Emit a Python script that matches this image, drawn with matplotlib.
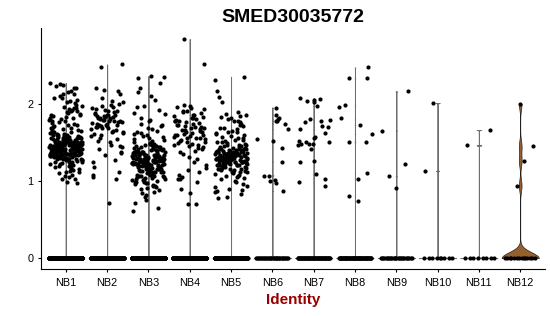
import matplotlib.pyplot as plt
import numpy as np

plt.rcParams["font.family"] = ["Liberation Sans", "DejaVu Sans"]

# -------------------------
# Data
# -------------------------

groups = ["NB1", "NB2", "NB3", "NB4", "NB5", "NB6",
          "NB7", "NB8", "NB9", "NB10", "NB11", "NB12"]

# cells with zero expression in each cluster
zero_counts = [950, 1150, 1000, 850, 900, 35, 55, 60, 28, 9, 8, 14]

nb1_expr = [
    1.42, 1.87, 1.35, 1.51, 2.21, 1.28, 1.46, 1.63, 1.39, 1.12,
    1.55, 1.33, 1.94, 1.44, 1.48, 1.19, 1.37, 2.05, 1.52, 1.41,
    1.31, 1.76, 1.45, 1.58, 1.24, 1.38, 1.49, 2.27, 1.34, 1.61,
    1.43, 1.06, 1.54, 1.82, 1.36, 1.47, 1.29, 1.40, 1.99, 1.53,
    1.32, 1.68, 1.44, 1.15, 1.50, 1.38, 2.12, 1.46, 1.27, 1.57,
    1.41, 1.90, 1.35, 1.62, 1.48, 1.22, 1.39, 1.72, 1.45, 1.03,
    1.52, 1.33, 2.17, 1.43, 1.56, 1.30, 1.84, 1.47, 1.37, 1.65,
    1.25, 1.42, 1.51, 1.96, 1.36, 1.49, 1.10, 1.44, 1.59, 2.08,
    1.34, 1.40, 1.79, 1.53, 1.28, 1.46, 1.38, 1.66, 1.20, 1.43,
    1.55, 1.88, 1.32, 1.48, 2.24, 1.41, 1.17, 1.60, 1.37, 1.50,
    1.45, 1.74, 1.31, 1.42, 1.93, 1.54, 1.26, 1.39, 1.63, 1.08,
    1.47, 1.35, 2.02, 1.52, 1.44, 1.23, 1.81, 1.40, 1.57, 1.33,
    1.49, 1.70, 1.14, 1.43, 1.36, 2.15, 1.46, 1.29, 1.58, 1.85,
    1.38, 1.51, 1.41, 0.98, 1.64, 1.34, 1.45, 1.97, 1.21, 1.48,
    1.55, 1.30, 1.77, 1.42, 2.10, 1.37, 1.53, 1.18, 1.44, 1.67,
    1.32, 1.91, 1.47, 1.39, 1.27, 1.60, 2.20, 1.43, 1.50, 1.05,
    1.35, 1.73, 1.46, 1.56, 1.24, 1.40, 1.86, 1.52, 1.31, 2.01,
    1.44, 1.62, 1.13, 1.38, 1.49, 1.78, 1.36, 1.45, 2.26, 1.28,
    1.54, 1.41, 1.95, 1.33, 1.69, 1.16, 1.48, 1.42, 1.83, 1.37,
    1.51, 2.07, 1.25, 1.46, 1.59, 0.97, 1.39, 1.75, 1.43, 1.30,
    1.57, 1.89, 1.34, 1.47, 2.13, 1.22, 1.52, 1.40, 1.66, 1.11,
    1.45, 1.36, 1.80, 1.50, 1.29, 2.23, 1.43, 1.61, 1.38, 1.92,
    1.19, 1.48, 1.35, 1.71, 1.53, 1.02, 1.44, 2.04, 1.32, 1.58,
    1.41, 1.37, 1.46, 1.33, 1.50, 1.28, 1.43, 1.39, 1.55, 1.35,
    1.47, 1.31, 1.42, 1.52, 1.36, 1.45, 1.40, 1.27, 1.49, 1.44,
]

nb2_expr = [
    2.48, 2.51, 1.78, 1.84, 1.72, 2.18, 1.95, 1.63, 1.81, 1.45,
    1.74, 1.88, 1.27, 1.69, 2.02, 1.80, 1.52, 1.76, 1.92, 1.05,
    1.83, 1.71, 1.38, 1.86, 2.21, 1.66, 1.79, 1.58, 1.99, 1.73,
    1.12, 1.85, 1.61, 1.77, 2.07, 1.44, 1.82, 1.70, 1.90, 1.33,
    1.75, 1.96, 1.56, 2.13, 1.68, 1.87, 1.02, 1.79, 1.64, 1.47,
    1.81, 2.00, 1.73, 1.24, 1.89, 1.60, 1.76, 0.72, 1.93, 1.54,
    1.84, 1.67, 2.04, 1.41, 1.78, 1.71, 1.18, 1.86, 1.97, 1.62,
    1.50, 1.74, 2.16, 1.83, 1.08, 1.65, 1.80, 1.36, 1.91, 1.70,
]

nb3_expr = [
    1.25, 1.31, 1.08, 1.42, 1.19, 0.97, 1.36, 1.27, 1.62, 1.14,
    1.22, 1.03, 1.45, 1.29, 2.35, 1.17, 1.33, 0.88, 1.24, 1.51,
    1.11, 1.38, 1.26, 1.79, 1.05, 1.20, 1.47, 1.32, 0.93, 1.28,
    1.15, 1.69, 1.23, 1.40, 1.01, 1.34, 2.10, 1.18, 1.27, 0.82,
    1.30, 1.12, 1.44, 1.21, 1.56, 0.99, 1.35, 1.25, 1.87, 1.09,
    1.19, 1.41, 1.29, 0.72, 1.24, 1.37, 1.06, 1.48, 2.34, 1.16,
    1.32, 1.22, 0.95, 1.74, 1.28, 1.13, 1.39, 1.26, 1.02, 1.53,
    1.20, 1.33, 1.92, 1.10, 1.43, 0.86, 1.25, 1.30, 1.15, 1.64,
    1.36, 1.04, 1.23, 1.46, 2.21, 1.18, 1.31, 0.98, 1.27, 1.58,
    1.11, 1.40, 1.21, 0.65, 1.34, 1.24, 1.07, 1.82, 1.29, 1.17,
    1.45, 1.00, 1.35, 1.22, 1.67, 1.14, 1.28, 0.91, 1.38, 2.05,
    1.19, 1.26, 1.49, 1.08, 1.32, 0.79, 1.23, 1.42, 1.13, 1.71,
    1.30, 0.96, 1.25, 1.37, 1.05, 2.36, 1.20, 1.44, 1.16, 1.54,
    1.33, 0.89, 1.27, 1.10, 1.96, 1.39, 1.21, 1.02, 1.47, 1.28,
    1.15, 1.60, 1.34, 0.94, 1.24, 1.41, 1.09, 2.15, 1.31, 1.18,
    0.61, 1.26, 1.36, 1.12, 1.77, 1.22, 1.45, 0.99, 1.29, 1.52,
    1.06, 1.32, 1.19, 1.88, 1.25, 0.84, 1.40, 1.14, 1.30, 1.65,
    1.23, 1.01, 1.43, 1.27, 2.27, 1.17, 1.35, 0.92, 1.21, 1.57,
    1.11, 1.38, 1.26, 0.75, 1.33, 1.48, 1.07, 1.72, 1.20, 1.29,
    1.16, 1.97, 1.37, 1.04, 1.24, 1.44, 0.97, 1.61, 1.31, 1.13,
]

nb4_expr = [
    2.84, 2.52, 1.62, 1.78, 1.55, 1.91, 1.47, 1.70, 1.05, 1.83,
    1.58, 1.96, 1.43, 1.66, 1.21, 1.74, 1.52, 1.88, 0.70, 1.60,
    1.80, 1.35, 1.68, 1.94, 1.49, 1.12, 1.76, 1.57, 1.85, 0.89,
    1.63, 1.45, 1.72, 1.28, 1.99, 1.54, 1.81, 1.02, 1.67, 1.50,
    1.77, 1.39, 1.90, 1.59, 0.84, 1.73, 1.46, 1.64, 1.17, 1.86,
    1.53, 1.70, 1.31, 1.79, 0.70, 1.61, 1.93, 1.48, 1.08, 1.75,
    1.56, 1.84, 1.24, 1.66, 1.42, 1.97, 1.60, 0.98, 1.71, 1.51,
    1.82, 1.37, 1.65, 1.14, 1.78, 1.55, 1.89, 1.44, 1.69, 1.03,
]

nb5_expr = [
    1.30, 1.24, 1.38, 1.15, 1.45, 1.27, 1.62, 1.33, 1.19, 2.35,
    1.29, 1.41, 1.08, 1.35, 1.22, 1.78, 1.31, 0.88, 1.26, 1.50,
    1.36, 1.18, 1.43, 1.28, 1.69, 1.12, 1.32, 2.31, 1.25, 1.39,
    0.96, 1.34, 1.21, 1.56, 1.29, 1.47, 1.14, 1.83, 1.31, 1.23,
    1.37, 1.05, 1.27, 1.42, 1.65, 1.20, 1.33, 0.79, 1.30, 1.53,
    1.17, 1.40, 1.26, 2.16, 1.35, 1.22, 1.48, 1.10, 1.32, 1.74,
    1.28, 0.92, 1.38, 1.24, 1.59, 1.31, 1.16, 1.44, 1.87, 1.29,
    1.34, 1.02, 1.25, 1.40, 1.21, 1.63, 1.36, 1.13, 1.30, 2.09,
    1.27, 1.46, 0.85, 1.33, 1.19, 1.71, 1.28, 1.37, 1.07, 1.52,
    1.23, 1.32, 1.42, 1.15, 1.80, 1.29, 0.98, 1.35, 1.26, 1.58,
    1.31, 1.20, 1.49, 1.11, 1.34, 2.02, 1.24, 1.39, 0.87, 1.67,
    1.30, 1.18, 1.43, 1.27, 1.76, 1.36, 1.09, 1.33, 1.22, 1.55,
    1.28, 0.78, 1.41, 1.25, 1.85, 1.32, 1.14, 1.38, 1.29, 1.61,
    1.21, 1.45, 1.04, 1.35, 1.27, 1.72, 1.31, 0.94, 1.24, 1.51,
    1.37, 1.16, 1.30, 1.89, 1.26, 1.42, 1.12, 1.34, 0.83, 1.64,
    1.28, 1.40, 1.19, 1.33, 1.81, 1.23, 1.47, 1.06, 1.36, 1.30,
    1.57, 1.25, 0.90, 1.39, 1.20, 1.68, 1.32, 1.11, 1.44, 1.84,
    1.27, 1.35, 1.00, 1.29, 1.53, 1.22, 1.38, 1.77, 1.31, 1.17,
]

# sparse clusters: expression values and their horizontal jitter
nb6_expr = [1.54, 1.95, 1.86, 1.80, 1.81, 1.77, 1.78, 1.74, 1.67,
            1.52, 1.43, 1.25, 1.07, 1.07, 1.00, 1.01, 0.97, 0.87]
nb6_jit = [-0.38, 0.08, 0.09, 0.14, 0.17, 0.10, 0.12, 0.30, 0.39,
           0.02, 0.24, 0.24, -0.21, -0.08, -0.05, 0.06, 0.10, 0.27]

nb7_expr = [1.52, 2.07, 2.03, 2.05, 2.02, 1.97, 2.06, 1.80, 1.76, 1.67,
            1.77, 1.79, 1.71, 1.70, 1.62, 1.56, 1.57, 1.46, 1.48, 1.50,
            1.48, 1.48, 1.41, 1.50, 1.25, 1.26, 0.98, 1.09, 1.02, 0.94]
nb7_jit = [-0.36, -0.32, -0.17, 0.00, 0.01, 0.09, 0.15, -0.09, -0.21, -0.32,
           0.17, 0.39, 0.19, 0.35, 0.27, 0.00, 0.03, -0.37, -0.31, -0.19,
           -0.12, -0.02, -0.06, 0.37, -0.32, 0.02, -0.36, 0.06, 0.28, 0.28]

nb8_expr = [2.33, 2.47, 2.33, 1.96, 1.98, 1.81, 1.72,
            1.50, 1.51, 1.61, 1.02, 1.10, 0.81, 0.74]
nb8_jit = [-0.15, 0.31, 0.30, -0.38, -0.25, -0.35, 0.12,
           -0.15, 0.27, 0.41, 0.07, 0.28, -0.15, 0.08]

nb9_expr = [1.65, 1.06, 0.91, 1.22, 2.16]
nb9_jit = [-0.35, -0.18, 0.00, 0.21, 0.28]

nb10_expr = [2.01, 1.13]
nb10_jit = [-0.12, -0.31]

nb11_expr = [1.46, 1.66]
nb11_jit = [-0.30, 0.28]

nb12_expr = [2.00, 0.94, 1.26, 1.45]
nb12_jit = [0.00, -0.07, 0.10, 0.32]

expr_by_group = [nb1_expr, nb2_expr, nb3_expr, nb4_expr, nb5_expr, nb6_expr,
                 nb7_expr, nb8_expr, nb9_expr, nb10_expr, nb11_expr, nb12_expr]
jit_by_group = [None, None, None, None, None, nb6_jit,
                nb7_jit, nb8_jit, nb9_jit, nb10_jit, nb11_jit, nb12_jit]

nb12_fill = "#96602C"


def spread(n, start=1):
    # evenly scattered offsets in [-0.4, 0.4] (golden-ratio sequence)
    k = np.arange(start, start + n)
    return ((k * 0.6180339887) % 1.0 - 0.5) * 0.8


# -------------------------
# Plot
# -------------------------

fig = plt.figure(figsize=(5.5, 3.16), dpi=100)
ax = fig.add_axes([41 / 550, 47 / 316, 504 / 550, 241 / 316])

for i, name in enumerate(groups):
    pos = i + 1
    expr = np.asarray(expr_by_group[i], dtype=float)
    zeros = np.zeros(zero_counts[i])
    values = np.concatenate([zeros, expr])

    # violin: the zero spike dominates, so most clusters collapse to a line
    last = name == "NB12"
    parts = ax.violinplot(
        values,
        positions=[pos],
        widths=0.9,
        showextrema=False,
        bw_method=0.12 if last else 0.003,
        points=400,
    )
    body = parts["bodies"][0]
    body.set_facecolor(nb12_fill if last else "#8c8c8c")
    body.set_edgecolor("#222222" if last else "#6e6e6e")
    body.set_linewidth(0.5 if last else 0.7)
    body.set_alpha(1)

    # jittered cells
    if jit_by_group[i] is None:
        x_expr = spread(len(expr), start=7)
    else:
        x_expr = np.asarray(jit_by_group[i])
    ax.scatter(pos + spread(len(zeros)), zeros, s=9, c="black",
               linewidths=0, zorder=3)
    ax.scatter(pos + x_expr, expr, s=9, c="black",
               linewidths=0, zorder=3)

ax.set_xlim(0.4, len(groups) + 0.6)
ax.set_ylim(-0.142, 2.982)
ax.set_xticks(range(1, len(groups) + 1))
ax.set_xticklabels(groups)
ax.set_yticks([0, 1, 2])

for side in ["top", "right"]:
    ax.spines[side].set_visible(False)
for side in ["left", "bottom"]:
    ax.spines[side].set_linewidth(0.8)

ax.tick_params(axis="both", length=2.2, width=0.8, labelsize=7.8,
               colors="black", pad=3.2)
ax.tick_params(axis="x", pad=4.2)

ax.set_title("SMED30035772", fontsize=14, fontweight="bold", pad=4.5)
ax.set_xlabel("Identity", fontsize=11, fontweight="bold",
              color="#990000", labelpad=3.5)

fig.savefig("out.png", dpi=100)
plt.close(fig)
